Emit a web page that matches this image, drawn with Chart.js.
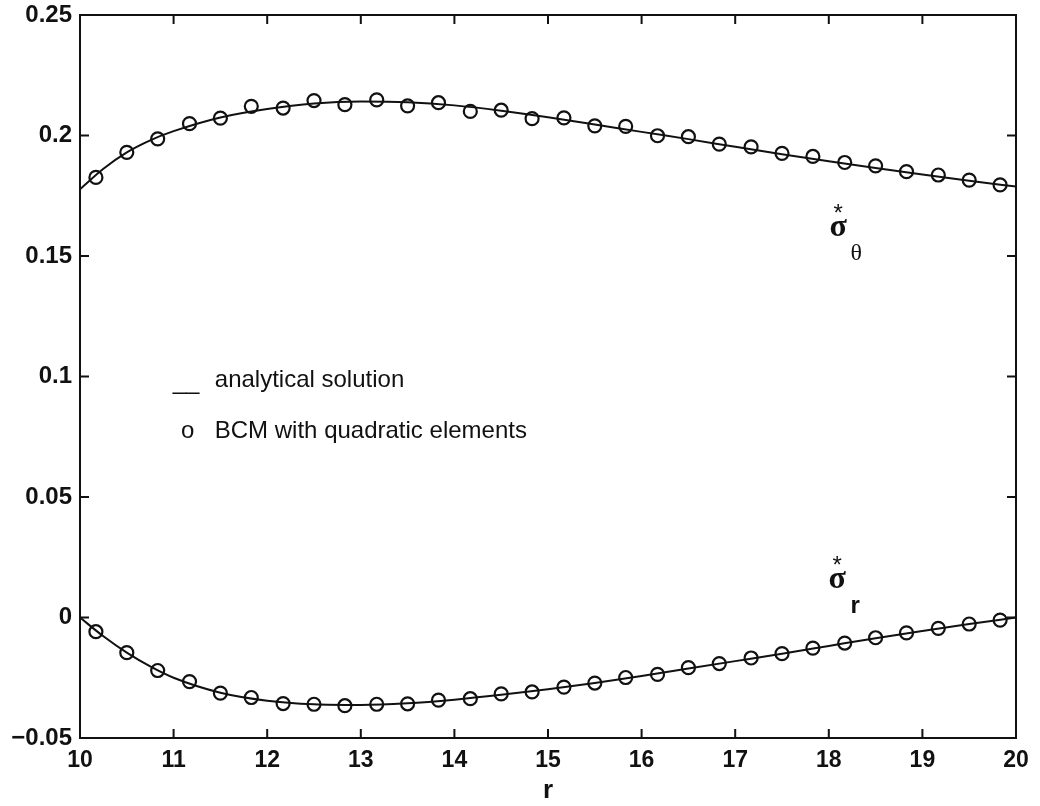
<!DOCTYPE html>
<html>
<head>
<meta charset="utf-8">
<script src="https://cdn.jsdelivr.net/npm/chart.js@4.4.0/dist/chart.umd.min.js"></script>
<style>
  html, body { margin: 0; padding: 0; background: #fff; }
  #stressChart { display: block; }
</style>
</head>
<body>
<canvas id="stressChart" width="1040" height="806"></canvas>
<script>
// radial positions of the BCM nodes (element midpoints)
const rBCM = [10.17, 10.5, 10.83, 11.17, 11.5, 11.83, 12.17, 12.5, 12.83, 13.17,
  13.5, 13.83, 14.17, 14.5, 14.83, 15.17, 15.5, 15.83, 16.17, 16.5,
  16.83, 17.17, 17.5, 17.83, 18.17, 18.5, 18.83, 19.17, 19.5, 19.83];

// BCM with quadratic elements (circles)
const sigmaThetaBCM = [0.1826, 0.1930, 0.1986, 0.2049, 0.2072, 0.2121, 0.2114, 0.2145, 0.2128, 0.2148,
  0.2123, 0.2136, 0.2100, 0.2105, 0.2070, 0.2073, 0.2040, 0.2038, 0.1999, 0.1995,
  0.1964, 0.1953, 0.1926, 0.1913, 0.1888, 0.1874, 0.1850, 0.1836, 0.1815, 0.1795];
const sigmaRBCM = [-0.0059, -0.0146, -0.0220, -0.0266, -0.0314, -0.0332, -0.0357, -0.0360, -0.0366, -0.0360,
  -0.0358, -0.0343, -0.0337, -0.0317, -0.0309, -0.0289, -0.0272, -0.0249, -0.0236, -0.0208,
  -0.0191, -0.0168, -0.0150, -0.0127, -0.0106, -0.0084, -0.0064, -0.0045, -0.0027, -0.0011];

// analytical solution (solid line)
const rCurve = [10, 10.25, 10.5, 10.75, 11, 11.5, 12, 12.5, 13, 13.5, 14, 14.5,
  15, 15.5, 16, 16.5, 17, 17.5, 18, 18.5, 19, 19.5, 20];
const sigmaThetaExact = [0.1777, 0.1862, 0.1930, 0.1980, 0.2018, 0.2075, 0.2110, 0.2133, 0.2141, 0.2138, 0.2125, 0.2103,
  0.2076, 0.2046, 0.2015, 0.1985, 0.1953, 0.1922, 0.1893, 0.1865, 0.1838, 0.1812, 0.1788];
const sigmaRExact = [0, -0.0078, -0.0146, -0.0203, -0.0250, -0.0312, -0.0345, -0.0360, -0.0363, -0.0356, -0.0341, -0.0321,
  -0.0298, -0.0272, -0.0243, -0.0212, -0.0181, -0.0150, -0.0118, -0.0086, -0.0056, -0.0027, 0];

// axis ticks
const xTicks = [10, 11, 12, 13, 14, 15, 16, 17, 18, 19, 20];
const yTicks = [-0.05, 0, 0.05, 0.1, 0.15, 0.2, 0.25];
const yTickLabels = ["\u22120.05", "0", "0.05", "0.1", "0.15", "0.2", "0.25"];

const toPoints = (xs, ys) => xs.map((x, i) => ({ x: x, y: ys[i] }));

const INK = "#111";
const SANS = "'Liberation Sans', Arial, sans-serif";
const SERIF = "'Liberation Serif', 'DejaVu Serif', serif";

const lineSet = (data) => ({
  data: data,
  showLine: true,
  borderColor: INK,
  borderWidth: 2,
  pointRadius: 0,
  cubicInterpolationMode: "monotone",
  fill: false,
});

const circleSet = (data) => ({
  data: data,
  showLine: false,
  pointStyle: "circle",
  pointRadius: 6.5,
  pointBorderWidth: 2.2,
  pointBorderColor: INK,
  pointBackgroundColor: "rgba(0,0,0,0)",
});

// box, inward ticks and text annotations
const decorations = {
  id: "decorations",
  afterDraw(chart) {
    const { ctx, chartArea: a, scales } = chart;
    const xs = scales.x, ys = scales.y;
    const len = 9;
    ctx.save();
    ctx.strokeStyle = INK;
    ctx.lineWidth = 2;
    ctx.strokeRect(a.left, a.top, a.right - a.left, a.bottom - a.top);
    ctx.beginPath();
    xTicks.forEach((v) => {
      const px = xs.getPixelForValue(v);
      ctx.moveTo(px, a.bottom); ctx.lineTo(px, a.bottom - len);
      ctx.moveTo(px, a.top); ctx.lineTo(px, a.top + len);
    });
    yTicks.forEach((v) => {
      const py = ys.getPixelForValue(v);
      ctx.moveTo(a.left, py); ctx.lineTo(a.left + len, py);
      ctx.moveTo(a.right, py); ctx.lineTo(a.right - len, py);
    });
    ctx.stroke();

    ctx.fillStyle = INK;
    ctx.textBaseline = "alphabetic";
    ctx.textAlign = "left";
    // legend text
    ctx.font = "24px " + SANS;
    const lx = xs.getPixelForValue(10.99);
    const tx = xs.getPixelForValue(11.44);
    const y1 = ys.getPixelForValue(0.0948);
    const y2 = ys.getPixelForValue(0.0745);
    ctx.fillText("__", lx, y1);
    ctx.fillText("analytical solution", tx, y1 - 2);
    ctx.fillText("o", xs.getPixelForValue(11.08), y2);
    ctx.fillText("BCM with quadratic elements", tx, y2);

    // sigma labels
    const sigmaLabel = (r, v, sub, subFont) => {
      const px = xs.getPixelForValue(r);
      const py = ys.getPixelForValue(v);
      ctx.textAlign = "center";
      ctx.textBaseline = "middle";
      ctx.font = "24px " + SANS;
      ctx.fillText("*", px, py - 16);
      ctx.font = "bold 32px " + SERIF;
      ctx.fillText("\u03C3", px, py - 2);
      ctx.font = subFont;
      ctx.fillText(sub, px + 18, py + 24);
    };
    sigmaLabel(18.10, 0.1608, "\u03B8", "24px " + SERIF);
    sigmaLabel(18.09, 0.0147, "r", "bold 24px " + SANS);
    ctx.restore();
  },
};

new Chart(document.getElementById("stressChart"), {
  type: "scatter",
  data: {
    datasets: [
      lineSet(toPoints(rCurve, sigmaThetaExact)),
      lineSet(toPoints(rCurve, sigmaRExact)),
      circleSet(toPoints(rBCM, sigmaThetaBCM)),
      circleSet(toPoints(rBCM, sigmaRBCM)),
    ],
  },
  options: {
    responsive: false,
    animation: false,
    devicePixelRatio: 1,
    layout: { padding: { top: 15, right: 24, bottom: 0, left: 0 } },
    plugins: { legend: { display: false }, tooltip: { enabled: false } },
    scales: {
      x: {
        type: "linear",
        min: 10,
        max: 20,
        afterBuildTicks: (s) => { s.ticks = xTicks.map((v) => ({ value: v })); },
        afterFit: (s) => { s.height = 68; s.paddingLeft = 0; s.paddingRight = 0; },
        grid: { display: false, tickLength: 0 },
        border: { display: false },
        ticks: { color: INK, font: { family: SANS, size: 23, weight: "bold" }, padding: 9, maxRotation: 0, autoSkip: false },
        title: {
          display: true,
          text: "r",
          color: INK,
          font: { family: SANS, size: 26, weight: "bold" },
          padding: { top: 0, bottom: 0 },
        },
      },
      y: {
        type: "linear",
        min: -0.05,
        max: 0.25,
        afterBuildTicks: (s) => { s.ticks = yTicks.map((v) => ({ value: v })); },
        afterFit: (s) => { s.width = 80; s.paddingTop = 0; s.paddingBottom = 0; },
        grid: { display: false, tickLength: 0 },
        border: { display: false },
        ticks: {
          color: INK,
          font: { family: SANS, size: 24, weight: "bold" },
          padding: 8,
          autoSkip: false,
          callback: (v, i) => yTickLabels[i],
        },
      },
    },
  },
  plugins: [decorations],
});
</script>
</body>
</html>
